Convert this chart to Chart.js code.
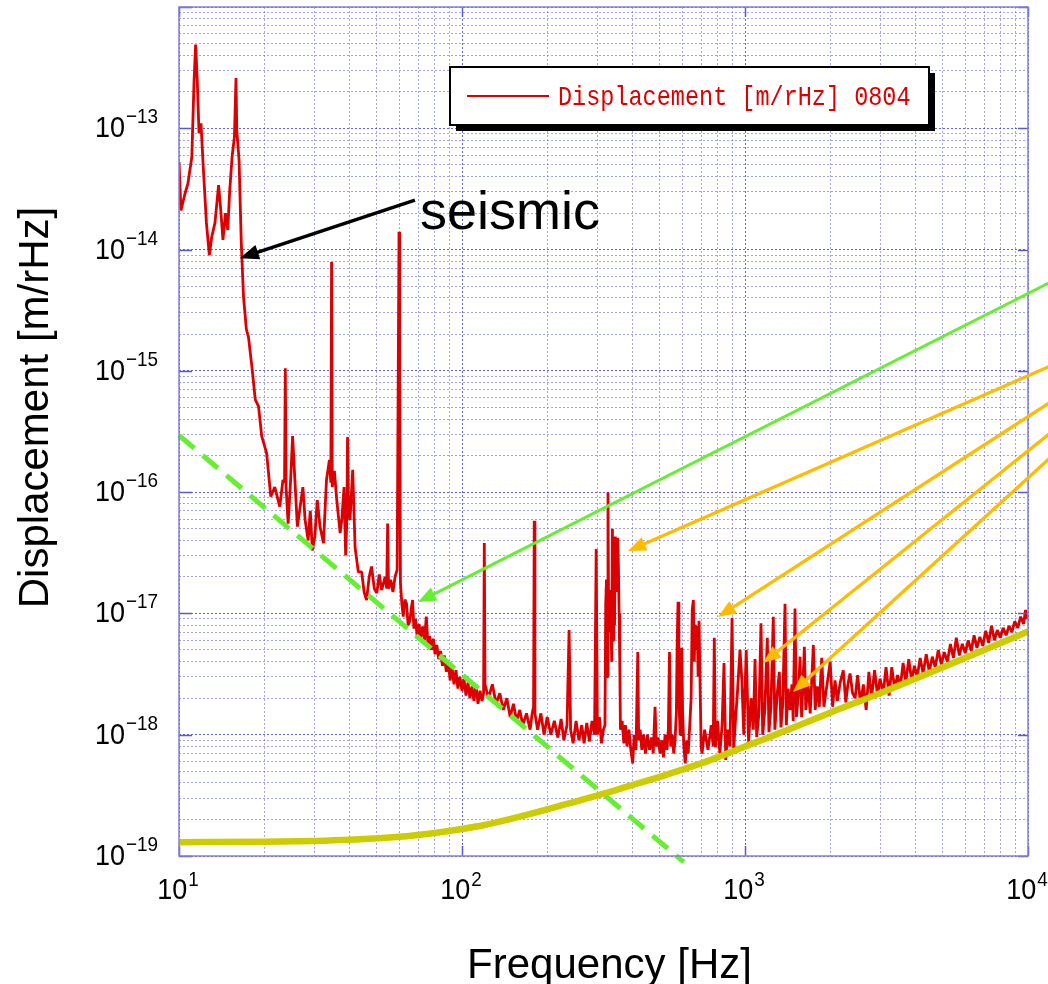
<!DOCTYPE html>
<html>
<head>
<meta charset="utf-8">
<script src="https://cdn.jsdelivr.net/npm/chart.js@4.4.1/dist/chart.umd.min.js"></script>
<style>
  html, body { margin: 0; padding: 0; background: #ffffff; }
  canvas { display: block; }
</style>
</head>
<body>
<canvas id="grafico" width="1048" height="984"></canvas>
<script>
// --- DATA: displacement spectrum 0804, [Hz, m/rHz] pairs by band ---
const seismicBand = [
  [10, 5.3e-14], [10.16, 2.1e-14], [10.5, 2.9e-14], [10.75, 3.5e-14], [11.1, 5.8e-14],
  [11.3, 2.4e-13], [11.45, 4.9e-13], [11.6, 2.5e-13], [11.77, 9.1e-14], [11.96, 1.1e-13],
  [12.2, 4.5e-14], [12.5, 1.66e-14], [12.8, 9e-15], [13.05, 1.27e-14], [13.4, 1.66e-14],
  [13.8, 3.4e-14], [14.05, 2.1e-14], [14.3, 1.2e-14], [14.6, 2.0e-14], [14.87, 1.45e-14],
  [15.1, 3.0e-14], [15.4, 5.8e-14], [15.7, 8.5e-14], [15.9, 2.6e-13], [16.0, 9.7e-14],
  [16.3, 5.5e-14], [16.6, 1.13e-14], [16.9, 4.1e-15], [17.1, 3.0e-15], [17.3, 2.2e-15],
  [17.6, 1.9e-15], [18.1, 1.08e-15]
];

const lowBand = [
  [18.6, 5.8e-16], [19.1, 5.1e-16], [19.6, 2.9e-16], [20.4, 2.1e-16], [21.1, 9.2e-17],
  [21.8, 1.1e-16], [22.7, 7.6e-17], [23.3, 1.26e-16], [23.6, 1.2e-16], [23.75, 1.05e-15],
  [23.9, 1.1e-16], [24.3, 5.5e-17], [24.8, 1.26e-16], [25.2, 2.9e-16], [25.6, 1.43e-16],
  [26.2, 5.2e-17], [26.8, 7.6e-17], [27.4, 1.1e-16], [27.9, 5.9e-17], [28.6, 4.0e-17],
  [29.1, 7.0e-17], [29.6, 3.3e-17], [30.2, 4.3e-17], [30.8, 8.6e-17], [31.5, 5.2e-17],
  [32.4, 3.8e-17], [33.2, 1.26e-16], [34.0, 1.84e-16], [34.4, 1.2e-16], [34.6, 7.9e-15],
  [34.8, 1.1e-16], [35.4, 1.5e-16], [36.1, 8.6e-17], [37.1, 4.6e-17], [37.6, 5.9e-17],
  [38.3, 1.1e-16], [38.8, 3.0e-17], [39.2, 6e-17], [39.4, 2.85e-16], [39.7, 8e-17],
  [40.2, 5.9e-17], [41.1, 1.53e-16], [41.9, 3.5e-17], [43.0, 2.2e-17], [44.2, 2.2e-17],
  [45.1, 1.5e-17], [46, 1.29e-17], [47, 2e-17], [47.9, 2.44e-17], [49, 1.6e-17],
  [50, 1.47e-17], [51, 2.1e-17], [52, 1.56e-17], [53.5, 2.0e-17], [54.2, 1.6e-17],
  [54.6, 5.5e-17], [55.0, 1.6e-17], [56, 1.9e-17], [57, 1.5e-17], [58, 2.0e-17],
  [59.0, 2.3e-17], [59.5, 8e-16], [59.9, 1.4e-14], [60.2, 1.0e-15], [60.6, 1.8e-17]
];

const bucketBand = [
  [61.3, 1.2e-17], [62.0, 9.4e-18], [62.8, 1.3e-17], [63.7, 1.2e-17], [64.5, 8e-18],
  [65.5, 8.8e-18], [66.2, 1.1e-17], [66.9, 1.29e-17], [67.6, 7.5e-18], [68.5, 9e-18],
  [69.5, 6.3e-18], [70.5, 8.2e-18], [71.5, 6.4e-18], [72.6, 7.8e-18], [73.7, 6e-18],
  [74.8, 9.4e-18], [75.8, 5.5e-18], [76.9, 6.5e-18], [78, 5e-18], [79.2, 6.2e-18],
  [80.3, 4.6e-18], [81.5, 5.5e-18], [82.7, 4.2e-18], [84, 4.9e-18], [85.3, 3.7e-18],
  [86.6, 4.5e-18], [88, 3.3e-18], [89.4, 4e-18], [90.8, 2.8e-18], [92.2, 3.6e-18],
  [93.7, 2.6e-18], [95.2, 3.4e-18], [96.7, 2.4e-18], [98.3, 3.0e-18], [100, 2.3e-18],
  [101.6, 2.9e-18], [103.3, 2.1e-18], [105, 2.7e-18], [106.7, 2.0e-18], [108.4, 2.5e-18],
  [110.2, 1.9e-18], [112, 2.6e-18], [113.9, 1.8e-18], [115.8, 2.3e-18], [117.7, 1.9e-18],
  [119.2, 2.2e-18], [119.9, 3.8e-17], [120.6, 2.6e-18]
];

const midBand = [
  [124, 2.0e-18], [128, 2.6e-18], [132, 1.8e-18], [136, 2.2e-18], [140, 1.6e-18],
  [144, 2.0e-18], [148, 1.4e-18], [152, 1.8e-18], [156, 1.3e-18], [160, 1.6e-18],
  [164, 1.2e-18], [169, 1.5e-18], [174, 1.1e-18], [177, 1.5e-18], [179, 1.7e-18],
  [180, 5.8e-17], [181, 1.5e-18], [185, 1.1e-18], [190, 1.5e-18], [195, 1.0e-18],
  [200, 1.4e-18], [206, 1.0e-18], [212, 1.3e-18], [218, 9.5e-19], [224, 1.35e-18],
  [229, 9e-19], [235, 1.2e-18], [239, 7.3e-18], [242, 1.1e-18], [247, 8.5e-19],
  [253, 1.3e-18], [259, 9e-19], [265, 1.2e-18], [270, 8.5e-19], [276, 1.25e-18],
  [282, 8.8e-19], [288, 1.3e-18], [294, 1.0e-18], [298, 3.4e-17], [301, 1.0e-18],
  [306, 1.4e-18], [311, 8.5e-19], [316, 1.1e-18], [320, 1.2e-18], [322, 1.2e-17],
  [324, 1.9e-17], [326, 3e-18], [328, 1.0e-16], [330, 7e-18], [333, 1.56e-17],
  [336, 1e-17], [338, 4e-18], [340, 5e-17], [342, 6e-18], [344, 3.5e-17],
  [346, 8e-18], [348, 4.3e-17], [351, 1.5e-17], [355, 4.2e-17], [357, 2.5e-17],
  [359, 1e-17], [361, 4e-18], [363, 1.1e-18], [368, 1.3e-18], [373, 8.5e-19],
  [378, 1.2e-18], [383, 8e-19], [389, 1.1e-18], [395, 7.5e-19], [401, 5.8e-19],
  [406, 1.0e-18], [412, 7.5e-19], [418, 4.8e-18], [421, 9e-19], [426, 1.1e-18],
  [432, 7.5e-19], [438, 1.0e-18], [445, 7e-19], [452, 1.0e-18], [460, 7.5e-19],
  [468, 9.5e-19], [474, 7e-19], [481, 1.7e-18], [486, 8e-19], [493, 9.5e-19],
  [501, 7e-19], [508, 9e-19], [515, 6.5e-19], [522, 1.0e-18], [530, 7.5e-19],
  [536, 1.1e-18], [541, 4.8e-18], [546, 8e-19], [553, 1.0e-18], [560, 7e-19],
  [566, 9e-19], [572, 1.5e-18], [576, 6e-18], [580, 1.25e-17], [584, 2e-18],
  [590, 1.0e-18], [594, 3e-18], [598, 5.2e-18], [602, 1.5e-18], [608, 8e-19],
  [615, 5.8e-19], [622, 9e-19], [630, 7e-19], [638, 1.2e-18], [645, 2e-18],
  [651, 1.07e-17], [657, 1.29e-17], [662, 4e-18], [666, 8.1e-18], [672, 5e-18],
  [678, 7.9e-18], [683, 3e-18], [688, 8.7e-18], [694, 2.5e-18], [700, 8e-19]
];

const khzBand = [
  [705, 7e-19], [720, 1.1e-18], [740, 7.5e-19], [760, 1.2e-18], [772, 8e-19],
  [779, 6.3e-18], [786, 7.9e-19], [800, 1.3e-18], [815, 7e-19], [830, 1.2e-18],
  [843, 3.9e-18], [855, 6.2e-19], [870, 1.1e-18], [885, 8e-19], [900, 9.2e-18],
  [912, 7.5e-19], [925, 1.3e-18], [940, 2.2e-18], [960, 5e-18], [975, 2.8e-18],
  [990, 1.0e-18], [1010, 5e-18], [1030, 8.5e-19], [1050, 2.0e-18], [1070, 1.1e-18],
  [1085, 4.2e-18], [1100, 9.6e-19], [1120, 1.5e-18], [1139, 8.3e-18], [1155, 1.0e-18],
  [1175, 1.6e-18], [1199, 6.3e-18], [1215, 1.05e-18], [1235, 1.7e-18], [1259, 9.4e-18],
  [1275, 1.1e-18], [1300, 2.2e-18], [1322, 3.3e-18], [1340, 1.15e-18], [1360, 1.8e-18],
  [1385, 1.2e-17], [1400, 1.2e-18], [1420, 2.4e-18], [1443, 1.6e-18], [1465, 2.6e-18],
  [1480, 1.3e-18], [1502, 1.1e-17], [1520, 1.4e-18], [1545, 2.2e-18], [1565, 4.4e-18],
  [1585, 1.4e-18], [1600, 2.4e-18], [1621, 5.3e-18], [1640, 1.6e-18], [1670, 2.6e-18],
  [1700, 1.5e-18], [1744, 5.5e-18], [1770, 1.6e-18], [1800, 2.5e-18], [1830, 1.7e-18],
  [1867, 4.3e-18], [1900, 1.7e-18], [1950, 2.6e-18], [2000, 4.0e-18], [2040, 1.7e-18],
  [2080, 2.8e-18], [2120, 1.9e-18], [2170, 2.7e-18], [2225, 3.4e-18], [2270, 1.85e-18],
  [2310, 2.6e-18], [2350, 3.2e-18], [2400, 2.2e-18]
];

const highBand = [
  [2450, 2.0e-18], [2500, 3.1e-18], [2560, 1.8e-18], [2620, 2.6e-18], [2680, 1.6e-18],
  [2740, 3.3e-18], [2800, 2.0e-18], [2870, 3.4e-18], [2940, 2.1e-18], [3000, 2.9e-18],
  [3080, 2.2e-18], [3150, 3.6e-18], [3230, 2.1e-18], [3300, 3.6e-18], [3380, 2.4e-18],
  [3460, 3.1e-18], [3540, 2.5e-18], [3620, 3.9e-18], [3700, 2.7e-18], [3790, 4.2e-18],
  [3880, 2.8e-18], [3970, 3.7e-18], [4060, 3.0e-18], [4160, 4.3e-18], [4260, 3.2e-18],
  [4370, 4.6e-18], [4480, 3.3e-18], [4590, 4.4e-18], [4700, 3.6e-18], [4820, 5.0e-18],
  [4940, 3.8e-18], [5060, 4.8e-18], [5190, 4.0e-18], [5320, 5.6e-18], [5450, 4.3e-18],
  [5580, 6.3e-18], [5720, 4.5e-18], [5860, 5.6e-18], [6000, 4.7e-18], [6150, 6.0e-18],
  [6300, 4.9e-18], [6450, 6.6e-18], [6600, 5.2e-18], [6760, 6.4e-18], [6920, 5.4e-18],
  [7090, 7.2e-18], [7260, 5.7e-18], [7430, 7.9e-18], [7610, 6.0e-18], [7790, 7.3e-18],
  [7980, 6.3e-18], [8170, 7.6e-18], [8370, 6.6e-18], [8570, 7.9e-18], [8770, 7.0e-18],
  [8980, 8.6e-18], [9200, 7.6e-18], [9420, 9.4e-18], [9650, 8.2e-18], [9800, 1.07e-17],
  [9900, 9.0e-18], [10000, 1.03e-17]
];

// shot-noise style floor (yellow) and f^-2 seismic slope (green dashed)
const shotFreq = [10, 20, 30, 40, 60, 80, 100, 120, 150, 200, 250, 300, 350, 400, 500, 600, 700, 800,
                  1000, 1200, 1500, 2000, 3000, 4000, 5000, 7000, 10000, 11800];
const shotDisp = [1.3e-19, 1.31e-19, 1.33e-19, 1.36e-19, 1.44e-19, 1.55e-19, 1.67e-19, 1.8e-19, 2.03e-19,
                  2.42e-19, 2.8e-19, 3.15e-19, 3.5e-19, 3.85e-19, 4.5e-19, 5.15e-19, 5.8e-19, 6.5e-19,
                  8.0e-19, 9.4e-19, 1.16e-18, 1.52e-18, 2.2e-18, 2.9e-18, 3.6e-18, 5.0e-18, 7.1e-18, 8.4e-18];
const slopeFreq = [10, 608];
const slopeDisp = [2.94e-16, 8.9e-20];

// axis labels: powers of ten
const xLabelExp = [1, 2, 3, 4];
const yLabelExp = [-19, -18, -17, -16, -15, -14, -13];

// annotation arrows, [Hz, m/rHz] from -> to
const seismicArrow = { from: [68.2, 2.56e-14], to: [16.4, 8.5e-15] };
const floorArrow = { from: [12970, 5.9e-15], to: [69.9, 1.24e-17] };
const peakArrows = [
  { from: [12970, 1.19e-15], to: [386, 3.27e-17] },
  { from: [12970, 6.2e-16], to: [803, 9.35e-18] },
  { from: [12970, 3.56e-16], to: [1158, 3.9e-18] },
  { from: [12970, 2.27e-16], to: [1478, 2.25e-18] }
];
const seismicText = { at: [71.1, 2.0e-14], text: 'seismic' };

// --- HELPERS ---
const SANS = '"Liberation Sans", Arial, Helvetica, sans-serif';
const toXY = (xs, ys) => xs.map((x, i) => ({ x: x, y: ys[i] }));
const pairsToXY = (pairs) => pairs.map(p => ({ x: p[0], y: p[1] }));

function gridValues(lo, hi) {
    const vals = [];
    for (let e = lo; e < hi; e++) {
        for (let m = 1; m < 10; m++) vals.push(m * Math.pow(10, e));
    }
    vals.push(Math.pow(10, hi));
    return vals;
}

function isDecade(v) {
    const l = Math.log10(v);
    return Math.abs(l - Math.round(l)) < 1e-6;
}

function drawArrow(ctx, x1, y1, x2, y2, color, width, head) {
    const ang = Math.atan2(y2 - y1, x2 - x1);
    const c = Math.cos(ang), s = Math.sin(ang);
    ctx.save();
    ctx.strokeStyle = color;
    ctx.fillStyle = color;
    ctx.lineWidth = width;
    ctx.beginPath();
    ctx.moveTo(x1, y1);
    ctx.lineTo(x2 - c * head * 0.8, y2 - s * head * 0.8);
    ctx.stroke();
    ctx.beginPath();
    ctx.moveTo(x2, y2);
    ctx.lineTo(x2 - head * c + head * 0.4 * s, y2 - head * s - head * 0.4 * c);
    ctx.lineTo(x2 - head * c - head * 0.4 * s, y2 - head * s + head * 0.4 * c);
    ctx.closePath();
    ctx.fill();
    ctx.restore();
}

// narrow-looking glyphs: squeeze horizontally
const SQUEEZE = 0.9;
function squeezedText(ctx, text, x, y, font) {
    ctx.save();
    ctx.font = font;
    ctx.translate(x, y);
    ctx.scale(SQUEEZE, 1);
    ctx.fillText(text, 0, 0);
    ctx.restore();
}
function squeezedWidth(ctx, text, font) {
    ctx.font = font;
    return ctx.measureText(text).width * SQUEEZE;
}

function powerLabel(exp) {
    return exp < 0 ? '\u2212' + (-exp) : String(exp);
}

// --- PLUGINS ---
const framePlugin = {
    id: 'frame',
    afterDatasetsDraw(chart) {
        const { ctx, chartArea: a, scales } = chart;
        ctx.save();
        ctx.strokeStyle = '#5a5ac8';
        ctx.lineWidth = 1.5;
        // inner tick marks at each decade
        ctx.beginPath();
        yLabelExp.concat([-12]).forEach(e => {
            const py = Math.round(scales.y.getPixelForValue(Math.pow(10, e))) + 0.5;
            ctx.moveTo(a.left, py); ctx.lineTo(a.left + 13, py);
            ctx.moveTo(a.right, py); ctx.lineTo(a.right - 10, py);
        });
        xLabelExp.forEach(e => {
            const px = Math.round(scales.x.getPixelForValue(Math.pow(10, e))) + 0.5;
            ctx.moveTo(px, a.bottom); ctx.lineTo(px, a.bottom - 10);
            ctx.moveTo(px, a.top); ctx.lineTo(px, a.top + 10);
        });
        ctx.stroke();
        ctx.strokeStyle = '#8080d8';
        ctx.lineWidth = 1.5;
        ctx.strokeRect(a.left, a.top, a.right - a.left, a.bottom - a.top);
        ctx.restore();
    }
};

const annotationPlugin = {
    id: 'annotations',
    afterDraw(chart) {
        const { ctx, scales } = chart;
        const px = p => [scales.x.getPixelForValue(p[0]), scales.y.getPixelForValue(p[1])];

        const sf = px(seismicArrow.from), st = px(seismicArrow.to);
        drawArrow(ctx, sf[0], sf[1], st[0], st[1], '#000000', 3.5, 19);

        const ff = px(floorArrow.from), ft = px(floorArrow.to);
        drawArrow(ctx, ff[0], ff[1], ft[0], ft[1], '#66ee33', 3, 18);

        peakArrows.forEach(a => {
            const f = px(a.from), t = px(a.to);
            drawArrow(ctx, f[0], f[1], t[0], t[1], '#ffbb00', 3.3, 18);
        });

        const tp = px(seismicText.at);
        ctx.save();
        ctx.fillStyle = '#000000';
        ctx.font = '54px ' + SANS;
        ctx.textAlign = 'left';
        ctx.textBaseline = 'middle';
        ctx.fillText(seismicText.text, tp[0], tp[1] + 1);
        ctx.restore();

        // legend box with drop shadow
        const a = chart.chartArea;
        const lx = a.left + 271, ly = a.top + 60, lw = 479, lh = 58;
        ctx.save();
        ctx.fillStyle = '#000000';
        ctx.fillRect(lx + 6, ly + 6, lw, lh);
        ctx.fillStyle = '#ffffff';
        ctx.fillRect(lx, ly, lw, lh);
        ctx.strokeStyle = '#000000';
        ctx.lineWidth = 2;
        ctx.strokeRect(lx, ly, lw, lh);
        const red = chart.data.datasets[2];
        ctx.strokeStyle = red.borderColor;
        ctx.lineWidth = 2;
        ctx.beginPath();
        ctx.moveTo(lx + 17, ly + 29);
        ctx.lineTo(lx + 99, ly + 29);
        ctx.stroke();
        ctx.fillStyle = red.borderColor;
        ctx.font = '23.5px "Liberation Mono", "DejaVu Sans Mono", monospace';
        ctx.textAlign = 'left';
        ctx.textBaseline = 'alphabetic';
        ctx.translate(lx + 108, ly + 38);
        ctx.scale(1, 1.2);
        ctx.fillText(red.label, 0, 0);
        ctx.restore();
    }
};

const axisLabelPlugin = {
    id: 'axisLabels',
    afterDraw(chart) {
        const { ctx, chartArea: a, scales } = chart;
        ctx.save();
        ctx.fillStyle = '#000000';
        ctx.textBaseline = 'alphabetic';
        ctx.textAlign = 'left';

        const baseFont = '30px ' + SANS, supFont = '21px ' + SANS;
        const wb = squeezedWidth(ctx, '10', baseFont);

        yLabelExp.forEach(e => {
            const py = scales.y.getPixelForValue(Math.pow(10, e));
            const sup = powerLabel(e);
            const ws = squeezedWidth(ctx, sup, supFont);
            const right = a.left - 21;
            squeezedText(ctx, '10', right - ws - wb - 1, py + 9, baseFont);
            squeezedText(ctx, sup, right - ws, py - 5, supFont);
        });

        xLabelExp.forEach(e => {
            const px = scales.x.getPixelForValue(Math.pow(10, e));
            const sup = powerLabel(e);
            const ws = squeezedWidth(ctx, sup, supFont);
            const x0 = px - (wb + ws + 1) / 2 - 1;
            squeezedText(ctx, '10', x0, a.bottom + 43, baseFont);
            squeezedText(ctx, sup, x0 + wb + 1, a.bottom + 30, supFont);
        });

        ctx.font = '42px ' + SANS;
        ctx.textAlign = 'center';
        ctx.fillText('Frequency [Hz]', (a.left + a.right) / 2 + 6, a.bottom + 122);

        ctx.translate(48, (a.top + a.bottom) / 2 - 24);
        ctx.rotate(-Math.PI / 2);
        ctx.fillText('Displacement [m/rHz]', 0, 0);
        ctx.restore();
    }
};

// --- CHART ---
const xGrid = gridValues(1, 4);
const yGrid = gridValues(-19, -12);
const gridColor = c => (c.tick && isDecade(c.tick.value)) ? 'rgba(70, 70, 205, 0.85)' : 'rgba(105, 105, 225, 0.6)';

const redPoints = pairsToXY([].concat(seismicBand, lowBand, bucketBand, midBand, khzBand, highBand));

new Chart(document.getElementById('grafico'), {
    type: 'line',
    data: {
        datasets: [
            {
                label: 'shot noise',
                data: toXY(shotFreq, shotDisp),
                borderColor: '#cccc00',
                borderWidth: 6.5,
                cubicInterpolationMode: 'monotone',
                pointRadius: 0,
                clip: false
            },
            {
                label: 'seismic slope',
                data: toXY(slopeFreq, slopeDisp),
                borderColor: '#66ee33',
                borderWidth: 5,
                borderDash: [20, 11],
                pointRadius: 0,
                clip: false
            },
            {
                label: 'Displacement [m/rHz] 0804',
                data: redPoints,
                borderColor: '#dd0000',
                borderWidth: 2.8,
                borderJoinStyle: 'bevel',
                pointRadius: 0
            }
        ]
    },
    options: {
        responsive: false,
        animation: false,
        devicePixelRatio: 1,
        layout: { padding: { left: 179, top: 7, right: 20, bottom: 128 } },
        plugins: { legend: { display: false }, tooltip: { enabled: false } },
        scales: {
            x: {
                type: 'logarithmic',
                min: 10,
                max: 10000,
                afterBuildTicks: s => { s.ticks = xGrid.map(v => ({ value: v })); },
                ticks: { display: false },
                grid: { color: gridColor, lineWidth: 1, drawTicks: false },
                border: { display: false, dash: [2, 2] }
            },
            y: {
                type: 'logarithmic',
                min: 1e-19,
                max: 1e-12,
                afterBuildTicks: s => { s.ticks = yGrid.map(v => ({ value: v })); },
                ticks: { display: false },
                grid: { color: gridColor, lineWidth: 1, drawTicks: false },
                border: { display: false, dash: [2, 2] }
            }
        }
    },
    plugins: [framePlugin, annotationPlugin, axisLabelPlugin]
});
</script>
</body>
</html>
